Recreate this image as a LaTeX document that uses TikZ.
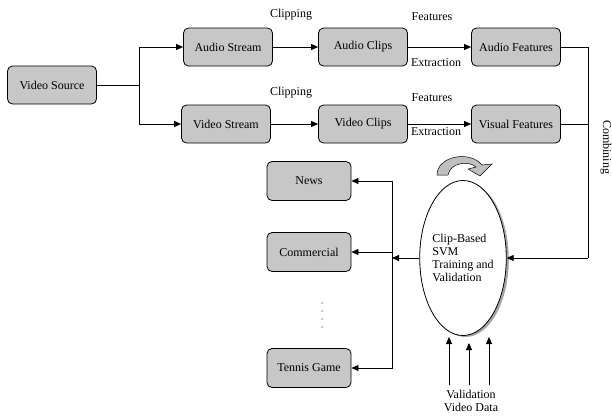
\documentclass[tikz,border=0pt]{standalone}
\usepackage{fontspec}
\setmainfont{Liberation Serif}
\usetikzlibrary{arrows.meta,shapes.geometric,shadows}
\begin{document}
\begin{tikzpicture}[x=1pt, y=-1pt, >={Triangle[length=7pt,width=6pt]}]
  \useasboundingbox (0,0) rectangle (612,416);
  \tikzstyle{box}=[draw, rounded corners=5pt, fill=black!22, line width=0.8pt, minimum width=89pt, minimum height=38pt, inner sep=0pt, font=\fontsize{12}{13}\selectfont]
  \tikzstyle{lbl}=[inner sep=0pt, font=\fontsize{12}{13}\selectfont]
  \tikzstyle{line}=[line width=0.8pt]

  % Eingang und Zerlegung
  \node[box] (src) at (52,85)  {Video Source};
  \node[box] (as)  at (228,47) {Audio Stream};
  \node[box] (vs)  at (226,124) {Video Stream};
  \node[box] (ac)  at (363,47) {Audio Clips};
  \node[box] (vc)  at (363,124) {Video Clips};
  \node[box] (af)  at (516,47) {Audio Features};
  \node[box] (vf)  at (516,124) {Visual Features};

  \node[lbl] (c1) at (291,15)  {Clipping};
  \node[lbl] (c2) at (291,93)  {Clipping};
  \node[lbl] (f1) at (432,17)  {Features};
  \node[lbl] (e1) at (436,63)  {Extraction};
  \node[lbl] (f2) at (432,98)  {Features};
  \node[lbl] (e2) at (436,132) {Extraction};

  \coordinate (split) at (139,85);
  \draw[line] (src) -- (split);
  \draw[line,->] (split) |- (as);
  \draw[line,->] (split) |- (vs);
  \draw[line,->] (as) -- (ac);
  \draw[line,->] (vs) -- (vc);
  \draw[line,->] (ac) -- (af);
  \draw[line,->] (vc) -- (vf);

  % Klassifikator
  \node[ellipse, draw, line width=0.8pt, fill=white, minimum width=86pt, minimum height=155pt,
        align=left, lbl, drop shadow={shadow xshift=2.5pt, shadow yshift=-1.5pt, fill=black!35, opacity=1}]
        (svm) at (463,258) {Clip-Based\\SVM\\Training and\\Validation};

  \coordinate (comb) at (588,258);
  \draw[line] (af) -| (comb);
  \draw[line] (vf) -| (comb);
  \draw[line,->] (comb) -- (svm);
  \node[lbl, rotate=-90] (cl) at (606,147) {Combining};

  % Rueckkopplungspfeil
  \draw[fill=black!25, line width=0.5pt]
    (437,175) .. controls (437,156) and (470,150) .. (482,165)
    -- (492,164) -- (480,176) -- (468,169) -- (476,167)
    .. controls (468,160) and (450,163) .. (448,175) -- cycle;

  % Ausgabe
  \node[box, minimum width=84pt, minimum height=39pt] (news)   at (309,181) {News};
  \node[box, minimum width=84pt, minimum height=39pt] (comm)   at (309,252) {Commercial};
  \node[box, minimum width=84pt, minimum height=39pt] (tennis) at (309,368) {Tennis Game};

  \coordinate (out) at (392,258);
  \draw[line,->] (svm) -- (out);
  \draw[line,->] (out) |- (news);
  \draw[line,->] (out |- comm) -- (comm);
  \draw[line,->] (out) |- (tennis);
  \draw[line] (out |- news) -- (out |- tennis);
  \foreach \y in {303,311,319,327} \fill (322,\y) circle (0.7pt);

  % Validierungsdaten
  \node[lbl, align=center] (val) at (471,401) {Validation\\Video Data};
  \coordinate (b1) at (449,385);
  \coordinate (b2) at (469,385);
  \coordinate (b3) at (489,385);
  \coordinate (t1) at (449,337);
  \coordinate (t2) at (469,343);
  \coordinate (t3) at (489,337);
  \draw[line,->] (b1) -- (t1);
  \draw[line,->] (b2) -- (t2);
  \draw[line,->] (b3) -- (t3);
\end{tikzpicture}
\end{document}
